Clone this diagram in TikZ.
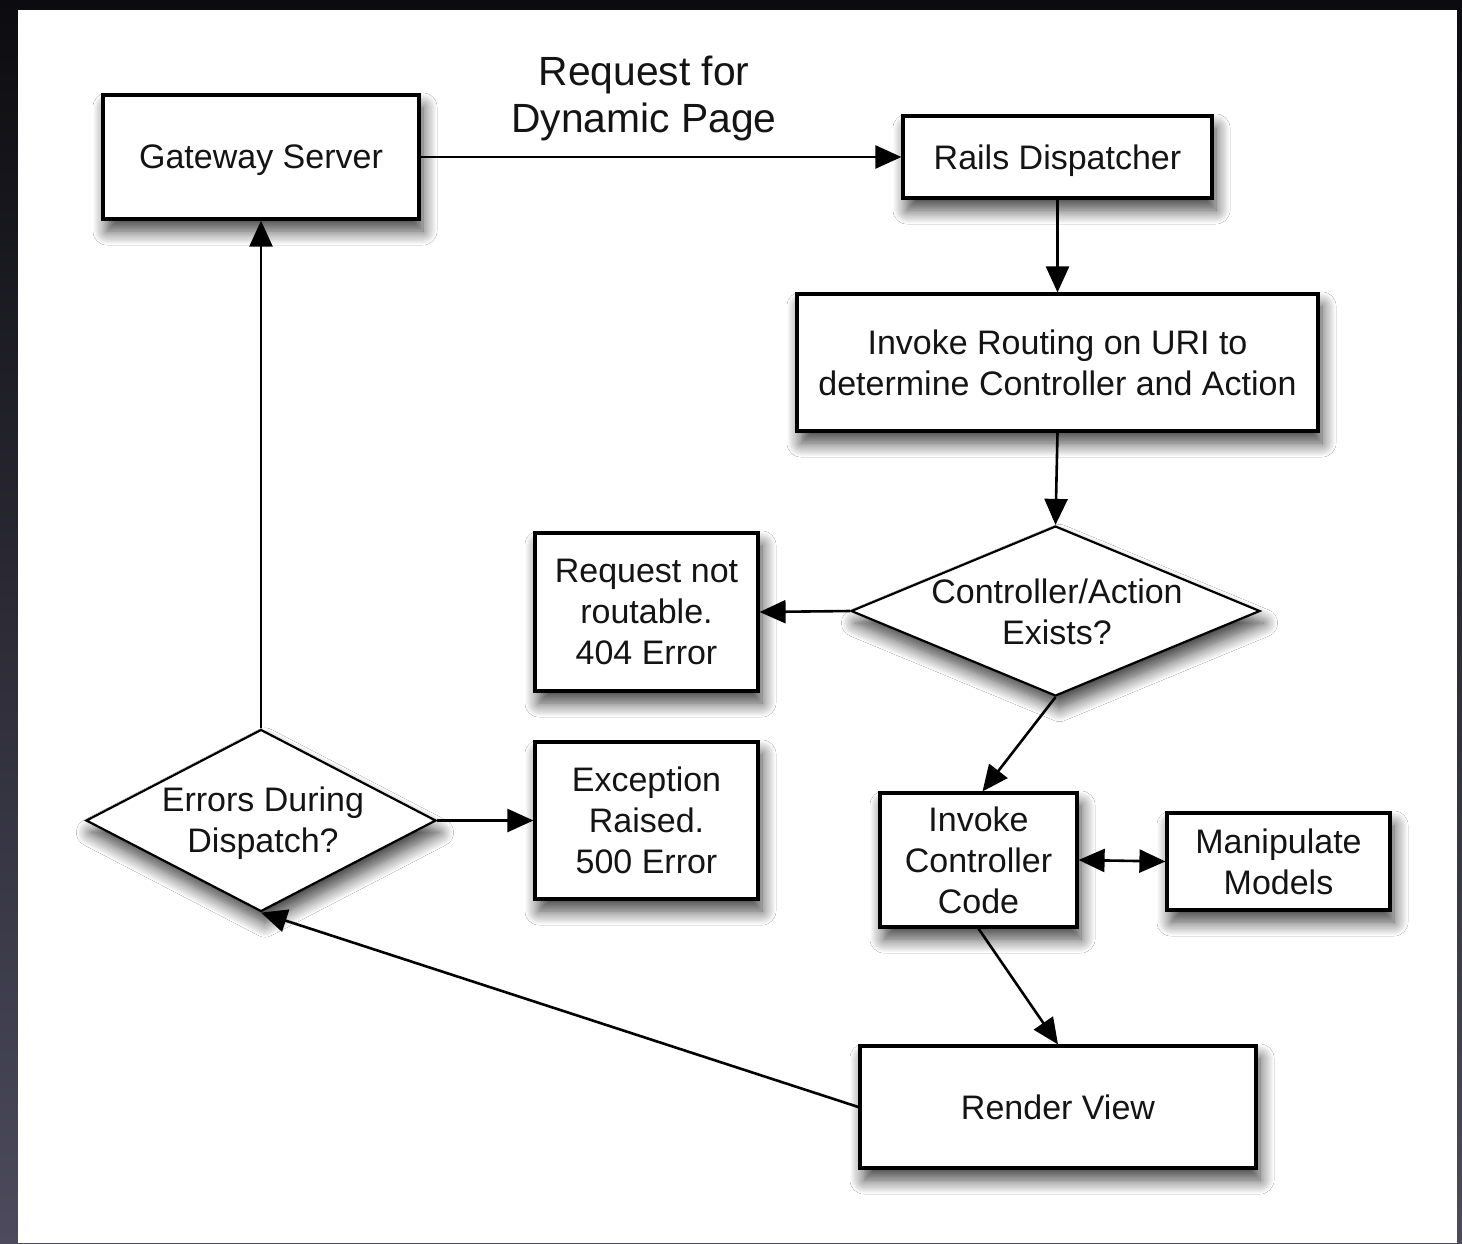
\documentclass[tikz,border=0pt]{standalone}
\usepackage{fontspec}
\setmainfont{Liberation Sans}
\usetikzlibrary{shapes.geometric,arrows.meta,shadows.blur}
\definecolor{frametop}{HTML}{0C0C10}
\definecolor{framebot}{HTML}{4C4A5C}
\tikzset{
  shad/.style={blur shadow={shadow xshift=2pt,shadow yshift=-6pt,shadow blur radius=7pt,shadow blur steps=14,shadow opacity=75}},
  boxnode/.style={draw=black,line width=1.6pt,fill=white,shad,align=center,inner sep=0pt,text depth=0pt,
     font=\fontsize{17}{20.5}\selectfont,text=black!92},
  dianode/.style={draw=black,line width=1.1pt,fill=white,shad,diamond,inner sep=0pt},
  txtnode/.style={align=center,inner sep=0pt,text depth=0pt,font=\fontsize{17}{20.5}\selectfont,text=black!92},
  conn/.style={draw=black,line width=1.3pt,-{Triangle[length=13pt,width=11.5pt]}},
  biconn/.style={draw=black,line width=1.3pt,{Triangle[length=13pt,width=11.5pt]}-{Triangle[length=13pt,width=11.5pt]}}
}
\begin{document}
\begin{tikzpicture}[x=0.5pt,y=-0.5pt]
\useasboundingbox (0,0) rectangle (1462,1243);
\fill[top color=frametop,bottom color=framebot] (0,0) rectangle (1462,1243);
\fill[white] (18,10) rectangle (1457,1243);

% nodes
\node[boxnode,minimum width=158pt,minimum height=62pt] (gw) at (261,157) {Gateway Server};
\node[boxnode,minimum width=154.5pt,minimum height=41pt] (rd) at (1057.5,157) {Rails Dispatcher};
\node[boxnode,minimum width=260.5pt,minimum height=68.5pt] (route) at (1057.5,362.5) {Invoke Routing on URI to\\determine Controller and Action};
\node[dianode,minimum width=204.5pt,minimum height=85pt] (cond) at (1055.5,611) {};
\node[txtnode] (condtext) at (1057,612) {Controller/Action\\Exists?};
\node[boxnode,minimum width=111.5pt,minimum height=79pt] (r404) at (646.5,612) {Request not\\routable.\\404 Error};
\node[boxnode,minimum width=111.5pt,minimum height=78.5pt] (exc) at (646.5,820.5) {Exception\\Raised.\\500 Error};
\node[dianode,minimum width=175pt,minimum height=91pt] (err) at (261,820.5) {};
\node[txtnode] (errtext) at (263,820) {Errors During\\Dispatch?};
\node[boxnode,minimum width=98.5pt,minimum height=67pt] (icc) at (978.5,860) {Invoke\\Controller\\Code};
\node[boxnode,minimum width=111.5pt,minimum height=48.5pt] (mm) at (1278.5,861.5) {Manipulate\\Models};
\node[boxnode,minimum width=198pt,minimum height=61pt] (rv) at (1058,1107) {Render View};

\node[txtnode,font=\fontsize{20.4}{23.5}\selectfont] (lbl) at (644,94) {Request for\\Dynamic Page};

% connectors
\draw[conn] (gw.east) -- (rd.west);
\draw[conn] (rd.south) -- (route.north);
\draw[conn] (route.south) -- (cond.north);
\draw[conn] (cond.west) -- (r404.east);
\draw[conn] (cond.south) -- ([xshift=2pt]icc.north);
\draw[biconn] (icc.east) -- (mm.west);
\draw[conn] (icc.south) -- (rv.north);
\draw[conn] (rv.west) -- (err.south);
\draw[conn] (err.east) -- (exc.west);
\draw[conn] (err.north) -- (gw.south);
\end{tikzpicture}
\end{document}
